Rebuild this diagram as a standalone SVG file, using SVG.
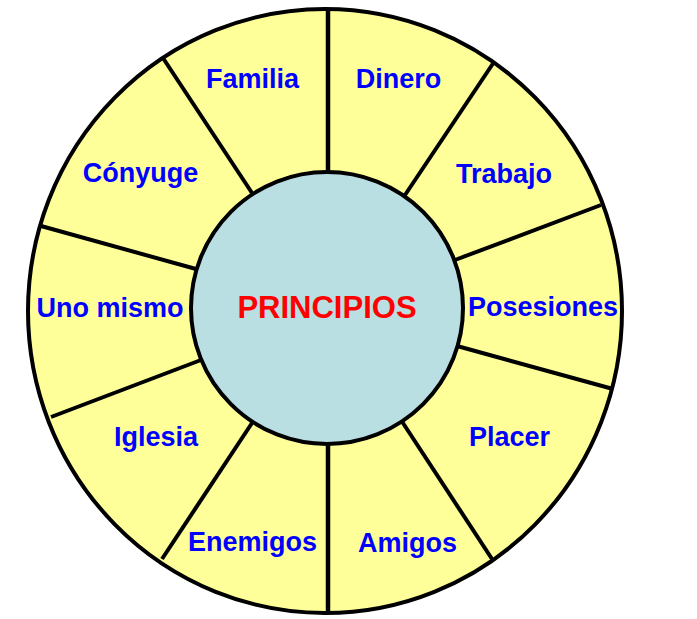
<svg xmlns="http://www.w3.org/2000/svg" width="697" height="619" viewBox="0 0 697 619">
<style>
.lbl{font-family:"Liberation Sans",Arial,sans-serif;font-weight:bold;font-size:27px;fill:#0000FF;text-anchor:middle}
.ctr{font-family:"Liberation Sans",Arial,sans-serif;font-weight:bold;font-size:31px;fill:#FF0000;text-anchor:middle}
.div{stroke:#000;stroke-width:4;fill:none}
</style>
<rect width="697" height="619" fill="#fff"/>
<ellipse id="ring" cx="325" cy="311" rx="297" ry="302" fill="#FFFF99"/>
<g id="dividers" class="div">
<line x1="328" y1="9" x2="328" y2="180" stroke-width="4.5"/>
<line x1="328" y1="440" x2="328" y2="613" stroke-width="4.5"/>
<line x1="163" y1="58" x2="254" y2="196"/>
<line x1="41" y1="226" x2="196" y2="269"/>
<line x1="51" y1="417" x2="201" y2="360"/>
<line x1="162" y1="559" x2="254" y2="420"/>
<line x1="494" y1="62" x2="403" y2="198"/>
<line x1="601" y1="205" x2="455" y2="260"/>
<line x1="613" y1="389" x2="457" y2="346"/>
<line x1="492" y1="559" x2="401" y2="420"/>
</g>
<ellipse cx="325" cy="311" rx="297" ry="302" fill="none" stroke="#000" stroke-width="4"/>
<g id="center">
<circle cx="327" cy="308" r="136" fill="#B9DFE3" stroke="#000" stroke-width="4"/>
<text class="ctr" x="327" y="318">PRINCIPIOS</text>
</g>
<g id="familia"><text class="lbl" x="252.5" y="88">Familia</text></g>
<g id="dinero"><text class="lbl" x="398.5" y="88">Dinero</text></g>
<g id="conyuge"><text class="lbl" x="140.5" y="182">Cónyuge</text></g>
<g id="trabajo"><text class="lbl" x="504" y="183">Trabajo</text></g>
<g id="uno-mismo"><text class="lbl" x="110" y="317">Uno mismo</text></g>
<g id="posesiones"><text class="lbl" x="543" y="316">Posesiones</text></g>
<g id="iglesia"><text class="lbl" x="156" y="446">Iglesia</text></g>
<g id="placer"><text class="lbl" x="509.5" y="446">Placer</text></g>
<g id="enemigos"><text class="lbl" x="252.5" y="551">Enemigos</text></g>
<g id="amigos"><text class="lbl" x="407.5" y="552">Amigos</text></g>
</svg>
